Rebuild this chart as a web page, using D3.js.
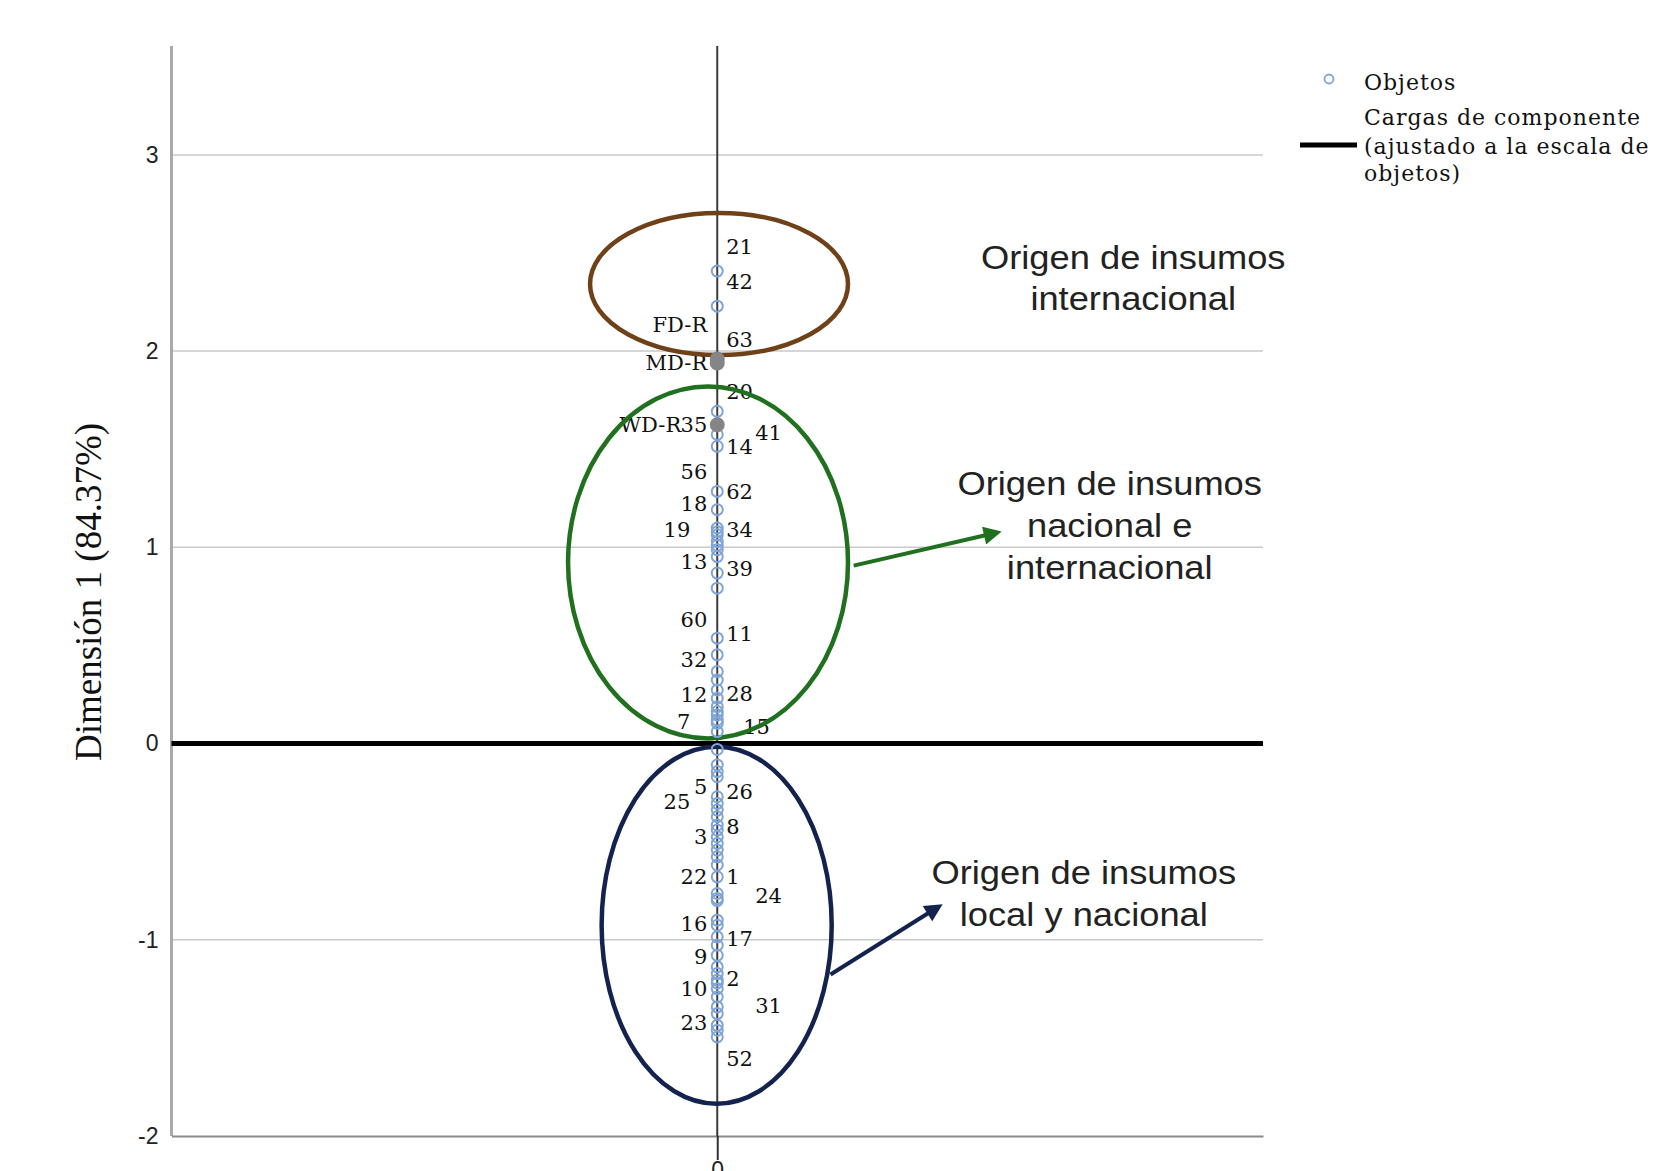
<!DOCTYPE html>
<html lang="es">
<head>
<meta charset="utf-8">
<title>Dimensión 1 - objetos y cargas</title>
<script src="https://cdn.jsdelivr.net/npm/d3@7"></script>
<style>
  body { margin: 0; background: #fff; }
  .tick text { font-family: "Liberation Sans", Arial, sans-serif; font-size: 23px; fill: #222; }
  .ptlabel { font-family: "DejaVu Serif", serif; font-size: 21px; fill: #111; }
  .legend text { font-family: "DejaVu Serif", serif; font-size: 22px; fill: #111; }
  .note { font-family: "Liberation Sans", Arial, sans-serif; font-size: 33px; fill: #222; }
</style>
</head>
<body>
<div id="chart"></div>
<script>

// y axis ticks (dimension 1) and the single x tick
var yTicks = [-2, -1, 0, 1, 2, 3];
var xTicks = [0];

// object scores on dimension 1 (all objects sit on x = 0)
var objectScores = [
  2.408, 2.229, 1.693, 1.575, 1.515,
  1.285, 1.192, 1.098, 1.080, 1.064, 1.030, 1.010, 0.988, 0.953, 0.869, 0.792,
  0.537, 0.452, 0.367, 0.324, 0.273, 0.231, 0.188, 0.163, 0.146, 0.120, 0.104, 0.061,
  -0.030, -0.109, -0.143, -0.169, -0.271, -0.305, -0.339, -0.373, -0.415, -0.441,
  -0.475, -0.509, -0.543, -0.577, -0.619, -0.679, -0.764, -0.789, -0.800, -0.900,
  -0.926, -0.985, -1.028, -1.079, -1.138, -1.172, -1.206, -1.220, -1.249, -1.291,
  -1.342, -1.376, -1.436, -1.461, -1.495
];

// component loadings (scaled to objects)
var loadingNames = ["FD-R", "MD-R", "WD-R"];
var loadingValues = [1.96, 1.94, 1.625];

// point labels: text, vertical value, side of the line
var labelTexts = ["21", "42", "63", "20", "14", "62", "34", "39", "11", "28", "26", "8", "1", "17", "2", "52",
                  "41", "15", "24", "31",
                  "FD-R", "MD-R", "35", "56", "18", "13", "60", "32", "12", "5", "3", "22", "16", "9", "10", "23",
                  "19", "7", "25", "WD-R"];
var labelValues = [2.535, 2.357, 2.06, 1.795, 1.515, 1.285, 1.09, 0.894, 0.563, 0.257, -0.245, -0.424, -0.679, -0.993, -1.197, -1.605,
                   1.585, 0.086, -0.772, -1.334,
                   2.136, 1.94, 1.625, 1.387, 1.226, 0.928, 0.631, 0.427, 0.248, -0.22, -0.475, -0.679, -0.917, -1.087, -1.249, -1.419,
                   1.09, 0.112, -0.296, 1.625];
var labelSides = ["r", "r", "r", "r", "r", "r", "r", "r", "r", "r", "r", "r", "r", "r", "r", "r",
                  "rr", "r2", "rr", "rr",
                  "l", "l", "l", "l", "l", "l", "l", "l", "l", "l", "l", "l", "l", "l", "l", "l",
                  "ll", "ll", "ll", "lw"];

// group annotations (drawn in data units)
var groupColors = ["#6f4119", "#20701f", "#14234e"];
var groupCx = [0.009, -0.047, -0.003];
var groupCy = [2.342, 0.923, -0.926];
var groupRx = [0.657, 0.713, 0.586];
var groupRy = [0.362, 0.897, 0.91];
var groupLines = [["Origen de insumos", "internacional"],
                  ["Origen de insumos", "nacional e", "internacional"],
                  ["Origen de insumos", "local y nacional"]];
var groupTextX = [2.119, 1.999, 1.867];
var groupTextY = [2.48, 1.328, -0.659];
var arrowFrom = [null, [0.695, 0.907], [0.577, -1.177]];
var arrowTo = [null, [1.418, 1.074], [1.127, -0.832]];

var legendItems = ["Objetos", "Cargas de componente", "(ajustado a la escala de", "objetos)"];
var legendRows = [0, 1.2, 2.2, 3.15];

var width = 1661, height = 1171;
var svg = d3.select("#chart").append("svg")
    .attr("width", width)
    .attr("height", height);

var x = d3.scaleLinear().domain([-2.78, 2.78]).range([171.5, 1263]);
var y = d3.scaleLinear().domain([-2, 3.555]).range([1136, 46]);

// plain hyphen for negatives, like the original output
var fmt = function(d) { return String(d); };

// grid lines
svg.selectAll("line.grid")
   .data(yTicks.filter(function(d) { return d > -2; }))
   .enter()
   .append("line")
   .attr("class", "grid")
   .attr("x1", x.range()[0]).attr("x2", x.range()[1])
   .attr("y1", function(d) { return y(d); })
   .attr("y2", function(d) { return y(d); })
   .attr("stroke", "#c9c9c9")
   .attr("stroke-width", 1.5);

// left axis
var yAxis = d3.axisLeft(y).tickValues(yTicks).tickFormat(fmt).tickSize(0).tickPadding(13);
var gy = svg.append("g")
   .attr("class", "y axis")
   .attr("transform", "translate(" + x.range()[0] + ",0)")
   .call(yAxis);
gy.select(".domain").remove();
svg.append("line")
   .attr("x1", x.range()[0]).attr("x2", x.range()[0])
   .attr("y1", y.range()[1]).attr("y2", y.range()[0])
   .attr("stroke", "#a9a9a9")
   .attr("stroke-width", 3);

// bottom axis
var xAxis = d3.axisBottom(x).tickValues(xTicks).tickFormat(fmt)
              .tickSizeInner(24).tickSizeOuter(0).tickPadding(2);
var gx = svg.append("g")
   .attr("class", "x axis")
   .attr("transform", "translate(0," + y(-2) + ")")
   .call(xAxis);
gx.select(".domain").attr("stroke", "#8a8a8a").attr("stroke-width", 2);
gx.selectAll(".tick line").attr("stroke", "#333").attr("stroke-width", 2);

// vertical line through x = 0
svg.append("line")
   .attr("x1", x(0)).attr("x2", x(0))
   .attr("y1", y.range()[1]).attr("y2", y(-2))
   .attr("stroke", "#3a3a3a")
   .attr("stroke-width", 2);

// component loading line
svg.append("line")
   .attr("x1", x.range()[0]).attr("x2", x.range()[1])
   .attr("y1", y(0)).attr("y2", y(0))
   .attr("stroke", "#000")
   .attr("stroke-width", 5);

// point labels
var sideDx = { r: 9, rr: 38, r2: 26, l: -10, ll: -27, lw: -36 };
svg.selectAll("text.ptlabel")
   .data(labelTexts)
   .enter()
   .append("text")
   .attr("class", "ptlabel")
   .attr("x", function(d, i) { return x(0) + sideDx[labelSides[i]]; })
   .attr("y", function(d, i) { return y(labelValues[i]); })
   .attr("dy", "0.36em")
   .attr("text-anchor", function(d, i) { return labelSides[i].charAt(0) == "l" ? "end" : "start"; })
   .text(function(d) { return d; });

// group ellipses
svg.selectAll("ellipse.group")
   .data(groupColors)
   .enter()
   .append("ellipse")
   .attr("class", "group")
   .attr("cx", function(d, i) { return x(groupCx[i]); })
   .attr("cy", function(d, i) { return y(groupCy[i]); })
   .attr("rx", function(d, i) { return x(groupRx[i]) - x(0); })
   .attr("ry", function(d, i) { return y(0) - y(groupRy[i]); })
   .attr("fill", "none")
   .attr("stroke", function(d) { return d; })
   .attr("stroke-width", 4.5);

// object points
svg.selectAll("circle.obj")
   .data(objectScores)
   .enter()
   .append("circle")
   .attr("class", "obj")
   .attr("cx", x(0))
   .attr("cy", function(d) { return y(d); })
   .attr("r", 5.5)
   .attr("fill", "none")
   .attr("stroke", "#7fa5d8")
   .attr("stroke-width", 2);

// loading points
svg.selectAll("circle.load")
   .data(loadingValues)
   .enter()
   .append("circle")
   .attr("class", "load")
   .attr("cx", x(0))
   .attr("cy", function(d) { return y(d); })
   .attr("r", 7.5)
   .attr("fill", "#858585");

// arrows
var defs = svg.append("defs");
groupColors.forEach(function(c, i) {
  defs.append("marker")
      .attr("id", "arrow" + i)
      .attr("viewBox", "0 0 10 10")
      .attr("refX", 2).attr("refY", 5)
      .attr("markerWidth", 5).attr("markerHeight", 4.5)
      .attr("orient", "auto")
      .append("path")
      .attr("d", "M0,0 L10,5 L0,10 z")
      .attr("fill", c);
});
groupColors.forEach(function(c, i) {
  if (!arrowFrom[i]) return;
  svg.append("line")
     .attr("x1", x(arrowFrom[i][0])).attr("y1", y(arrowFrom[i][1]))
     .attr("x2", x(arrowTo[i][0]) - 8).attr("y2", y(arrowTo[i][1]) + (i == 1 ? 2 : 5))
     .attr("stroke", c)
     .attr("stroke-width", 4)
     .attr("marker-end", "url(#arrow" + i + ")");
});

// group notes
groupLines.forEach(function(lines, i) {
  var g = svg.append("g")
     .attr("transform", "translate(" + x(groupTextX[i]) + "," + y(groupTextY[i]) + ") scale(1.1,1)");
  g.selectAll("text")
   .data(lines)
   .enter()
   .append("text")
   .attr("class", "note")
   .attr("text-anchor", "middle")
   .attr("y", function(d, j) { return j * 42; })
   .attr("dy", "0.35em")
   .text(function(d) { return d; });
});

// legend
var legend = svg.append("g").attr("class", "legend");
legend.append("circle")
      .attr("cx", 1329).attr("cy", 79)
      .attr("r", 4.5)
      .attr("fill", "none")
      .attr("stroke", "#7fa5d8")
      .attr("stroke-width", 1.8);
legend.append("line")
      .attr("x1", 1300).attr("x2", 1357)
      .attr("y1", 145).attr("y2", 145)
      .attr("stroke", "#000")
      .attr("stroke-width", 5);
legend.selectAll("text")
      .data(legendItems)
      .enter()
      .append("text")
      .attr("x", 1364)
      .attr("y", function(d, i) { return 82 + legendRows[i] * 29; })
      .attr("dy", "0.35em")
      .attr("letter-spacing", "1px")
      .text(function(d) { return d; });

// y axis title
svg.append("text")
   .attr("transform", "translate(88," + 592 + ") rotate(-90)")
   .attr("text-anchor", "middle")
   .attr("dy", "0.35em")
   .attr("font-family", "Liberation Serif, serif")
   .attr("font-size", "37px")
   .attr("fill", "#111")
   .text("Dimensión 1 (84.37%)");

</script>
</body>
</html>
